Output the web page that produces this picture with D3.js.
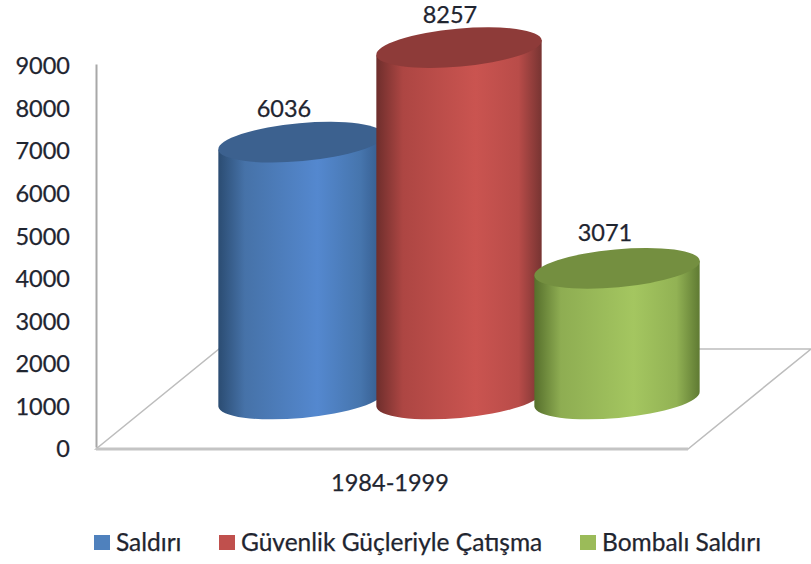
<!DOCTYPE html>
<html>
<head>
<meta charset="utf-8">
<script src="https://cdn.jsdelivr.net/npm/d3@7"></script>
<style>
  html, body { margin: 0; padding: 0; background: #fff; }
  text { font-family: Lato, "Open Sans", sans-serif; fill: #1f2530; stroke: #1f2530; stroke-width: 0.25; }
</style>
</head>
<body>
<svg id="canvas" width="811" height="564"></svg>
<script>
// Chart values
const category = "1984-1999";
const series = ["Saldırı", "Güvenlik Güçleriyle Çatışma", "Bombalı Saldırı"];
const values = [6036, 8257, 3071];
const yTicks = [0, 1000, 2000, 3000, 4000, 5000, 6000, 7000, 8000, 9000];

// Side gradient stops per series: dark edge, shoulder, highlight, shoulder, dark edge
const sideColors = [
    ["#2b4c72", "#4672a8", "#5488cf", "#4675ad", "#34598a"],
    ["#6e2e2c", "#ad4643", "#ca5450", "#b94c49", "#773432"],
    ["#566f2c", "#8ead52", "#a4c660", "#92b254", "#5f7a33"]
];
const sideStops = [0, 0.16, 0.6, 0.86, 1];
const capColors = ["#3c618f", "#8e3b39", "#748f40"];
const swatchColors = ["#4f81bd", "#c0504d", "#9bbb59"];

const svg = d3.select("#canvas");

// Scales
const y = d3.scaleLinear().domain([0, 9000]).range([447, 64]);
const x = d3.scalePoint().domain(series).range([301, 617]);

// Cylinder shape
const rx = 83, ry = 19, tilt = -5.2; // ellipse radii and rotation in degrees
const depth = 48; // floor middle sits this far above the zero line
const dx = rx * Math.cos(tilt * Math.PI / 180);
const dy = rx * Math.sin(tilt * Math.PI / 180);

// Floor of the 3D chart
const floor = [[96, 449], [688, 449], [811, 349], [219, 349]];
svg.append("polygon")
    .attr("points", floor.join(" "))
    .attr("fill", "#fff")
    .attr("stroke", "#bdbdbd")
    .attr("stroke-width", 1.5);
svg.append("line")
    .attr("x1", 96).attr("x2", 688)
    .attr("y1", 449).attr("y2", 449)
    .attr("stroke", "#c4c4c4")
    .attr("stroke-width", 3);

// Gradients for the cylinder sides
const defs = svg.append("defs");
series.forEach((s, i) => {
    const grad = defs.append("linearGradient")
        .attr("id", "side" + i)
        .attr("x1", 0).attr("x2", 1)
        .attr("y1", 0).attr("y2", 0);
    sideStops.forEach((o, j) => {
        grad.append("stop").attr("offset", o).attr("stop-color", sideColors[i][j]);
    });
});

// Draw the cylinders, later ones in front
series.forEach((s, i) => {
    const cx = x(s);
    const top = y(values[i]) - depth;
    const bottom = y(0) - depth;

    svg.append("path")
        .attr("d", `M${cx - dx},${top - dy} L${cx - dx},${bottom - dy}
            A${rx},${ry} ${tilt} 0 0 ${cx + dx},${bottom + dy}
            L${cx + dx},${top + dy} Z`)
        .attr("fill", `url(#side${i})`);

    svg.append("ellipse")
        .attr("rx", rx)
        .attr("ry", ry)
        .attr("transform", `translate(${cx},${top}) rotate(${tilt})`)
        .attr("fill", capColors[i]);
});

// Data labels
const labelDx = [-17, -9, -12];
const labelDy = [31, 31, 33];
series.forEach((s, i) => {
    svg.append("text")
        .attr("x", x(s) + labelDx[i])
        .attr("y", y(values[i]) - depth - labelDy[i])
        .attr("text-anchor", "middle")
        .attr("dominant-baseline", "middle")
        .attr("font-size", 23.5)
        .text(values[i]);
});

// Value axis
const axis = svg.append("g")
    .attr("transform", "translate(96,0)")
    .call(d3.axisLeft(y).tickValues(yTicks).tickSize(0).tickPadding(26).tickFormat(d3.format("d")));
axis.select(".domain").attr("stroke", "#a8a8a8").attr("stroke-width", 2);
axis.selectAll("text")
    .attr("font-size", 23.5)
    .attr("dy", "0.42em")
    .style("font-family", "Lato, sans-serif");

// Category label
svg.append("text")
    .attr("x", 390)
    .attr("y", 485)
    .attr("text-anchor", "middle")
    .attr("dominant-baseline", "middle")
    .attr("font-size", 23.5)
    .text(category);

// Legend
const legendX = [94, 219, 580];
series.forEach((s, i) => {
    svg.append("rect")
        .attr("x", legendX[i]).attr("y", 535)
        .attr("width", 16).attr("height", 15)
        .attr("fill", swatchColors[i]);
    svg.append("text")
        .attr("x", legendX[i] + 22)
        .attr("y", 545)
        .attr("dominant-baseline", "middle")
        .attr("font-size", 24.5)
        .text(s);
});
</script>
</body>
</html>
